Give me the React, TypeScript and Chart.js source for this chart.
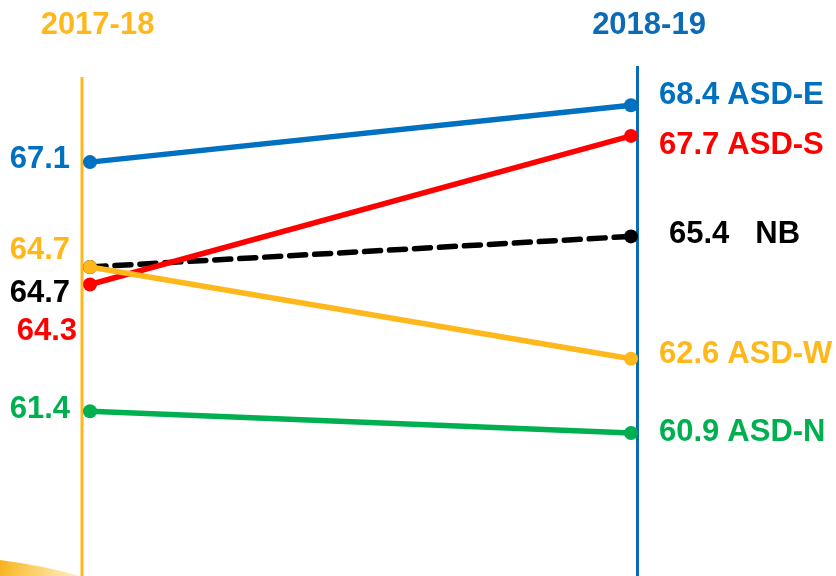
import React, { useEffect, useRef } from "react";
import { Chart, registerables } from "chart.js";

Chart.register(...registerables);

const years = ["2017-18", "2018-19"];
const seriesNames = ["ASD-E", "ASD-S", "NB", "ASD-W", "ASD-N"];
const values1718 = [67.1, 64.3, 64.7, 64.7, 61.4];
const values1819 = [68.4, 67.7, 65.4, 62.6, 60.9];
const seriesColors = ["#0070C0", "#FF0000", "#000000", "#FFB81C", "#00B050"];
const dashed = [false, false, true, false, false];
const leftLabelDy = [-3, 47, 26, -17, -2];
const leftLabelDx = [-12, -5, -12, -12, -12];
const rightLabelDy = [-10, 10, -2, -4, -1];
const rightValueDx = [28, 28, 38, 28, 28];
const rightNameGap = [8, 8, 26, 8, 8];

const yearColors = ["#FFB81C", "#0B6BB4"];
const FONT = "bold 31px 'Liberation Sans', Arial, sans-serif";

const slopePlugin = {
  id: "slopeDecor",
  beforeDatasetsDraw(chart: any) {
    const { ctx, scales } = chart;
    const xs = scales.x;
    const ys = scales.y;
    ctx.save();
    // bottom-left swoosh
    const g = ctx.createLinearGradient(0, 560, 80, 576);
    g.addColorStop(0, "#F7B21C");
    g.addColorStop(1, "rgba(255,200,60,0.3)");
    ctx.fillStyle = g;
    ctx.beginPath();
    ctx.moveTo(0, 560);
    ctx.quadraticCurveTo(40, 565, 80, 576);
    ctx.lineTo(0, 576);
    ctx.closePath();
    ctx.fill();
    // axis lines
    const axisX = [-0.0148, 1.012];
    const axisTop = [69.05, 69.3];
    axisX.forEach((ax, i) => {
      const px = xs.getPixelForValue(ax);
      ctx.strokeStyle = yearColors[i];
      ctx.lineWidth = 3;
      ctx.beginPath();
      ctx.moveTo(px, ys.getPixelForValue(axisTop[i]));
      ctx.lineTo(px, chart.height);
      ctx.stroke();
    });
    ctx.restore();
  },
  afterDatasetsDraw(chart: any) {
    const { ctx, scales } = chart;
    const xs = scales.x;
    const ys = scales.y;
    ctx.save();
    ctx.font = FONT;
    ctx.textBaseline = "middle";
    // year headers
    ctx.textAlign = "center";
    const headerX = [0.0139, 1.0333];
    years.forEach((yr, i) => {
      ctx.fillStyle = yearColors[i];
      ctx.fillText(yr, xs.getPixelForValue(headerX[i]), 25);
    });
    // left labels
    ctx.textAlign = "right";
    const lx = xs.getPixelForValue(-0.0148);
    seriesNames.forEach((_, i) => {
      ctx.fillStyle = seriesColors[i];
      ctx.fillText(
        values1718[i].toFixed(1),
        lx + leftLabelDx[i],
        ys.getPixelForValue(values1718[i]) + leftLabelDy[i]
      );
    });
    // right labels
    ctx.textAlign = "left";
    const rx = xs.getPixelForValue(1);
    seriesNames.forEach((name, i) => {
      ctx.fillStyle = seriesColors[i];
      const y = ys.getPixelForValue(values1819[i]) + rightLabelDy[i];
      const vt = values1819[i].toFixed(1);
      const x0 = rx + rightValueDx[i];
      ctx.fillText(vt, x0, y);
      const w = ctx.measureText(vt).width;
      ctx.fillText(name, x0 + w + rightNameGap[i], y);
    });
    ctx.restore();
  },
};

export default function App() {
  const ref = useRef<HTMLCanvasElement>(null);
  useEffect(() => {
    document.body.style.margin = "0";
    const canvas = ref.current!;
    const chart = new Chart(canvas, {
      type: "line",
      data: {
        datasets: seriesNames.map((name, i) => ({
          label: name,
          data: [
            { x: 0, y: values1718[i] },
            { x: 1, y: values1819[i] },
          ],
          borderColor: seriesColors[i],
          backgroundColor: seriesColors[i],
          borderWidth: 5.5,
          borderDash: dashed[i] ? [16, 9] : [],
          borderCapStyle: dashed[i] ? "round" : "butt",
          pointRadius: 7,
          pointHoverRadius: 7,
          pointBorderWidth: 0,
          pointBackgroundColor: seriesColors[i],
          tension: 0,
          clip: false,
          order: [4, 2, 3, 1, 5][i],
        })),
      },
      options: {
        responsive: false,
        animation: false,
        layout: { padding: 0, autoPadding: false },
        plugins: {
          legend: { display: false },
          tooltip: { enabled: false },
        },
        scales: {
          x: { type: "linear", display: false, min: -90 / 541, max: 746 / 541 },
          y: { type: "linear", display: false, min: 57.629, max: 70.81 },
        },
      },
      plugins: [slopePlugin],
    } as any);
    return () => chart.destroy();
  }, []);
  return (
    <div style={{ position: "absolute", left: 0, top: 0, width: 836, height: 576, background: "#fff" }}>
      <canvas ref={ref} width={836} height={576} />
    </div>
  );
}
